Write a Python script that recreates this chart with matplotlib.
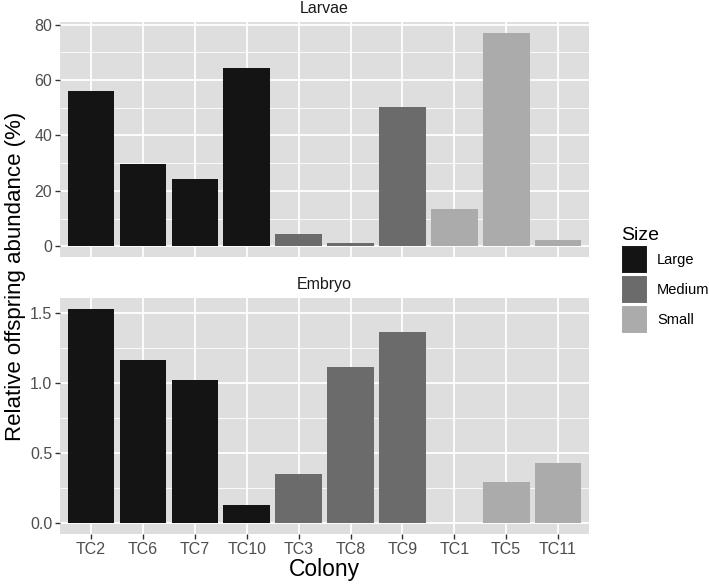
import matplotlib.pyplot as plt
from matplotlib.patches import Patch
from matplotlib.ticker import MultipleLocator

colonies = ["TC2", "TC6", "TC7", "TC10", "TC3", "TC8", "TC9", "TC1", "TC5", "TC11"]
sizes = ["Large", "Large", "Large", "Large", "Medium", "Medium", "Medium", "Small", "Small", "Small"]
larvae = [56.0, 29.8, 24.3, 64.3, 4.6, 1.1, 50.1, 13.4, 77.1, 2.2]
embryo = [1.533, 1.167, 1.026, 0.129, 0.354, 1.119, 1.367, 0.0, 0.293, 0.433]

size_colors = {"Large": "#141414", "Medium": "#6b6b6b", "Small": "#ababab"}

plt.rcParams['font.family'] = ['Liberation Sans', 'DejaVu Sans']

fig = plt.figure(figsize=(7.09, 5.86), dpi=100)
ax1 = fig.add_axes([0.0846, 0.5614, 0.7464, 0.4011])
ax2 = fig.add_axes([0.0846, 0.0887, 0.7464, 0.4028])

x = list(range(1, len(colonies) + 1))
cols = [size_colors[s] for s in sizes]


def style(ax, vals, major, minor, title):
    ax.set_facecolor("#dedede")
    ax.bar(x, vals, width=0.9, color=cols, zorder=3)
    top = max(vals)
    ax.set_xlim(0.4, len(colonies) + 0.6)
    ax.set_ylim(-0.05 * top, top * 1.05)
    ax.yaxis.set_major_locator(MultipleLocator(major))
    ax.yaxis.set_minor_locator(MultipleLocator(minor))
    ax.set_xticks(x)
    ax.grid(which="major", color="white", lw=1.3, zorder=1)
    ax.grid(which="minor", axis="y", color="white", lw=0.6, zorder=1)
    for s in ax.spines.values():
        s.set_visible(False)
    ax.tick_params(which="major", length=3.5, width=1.0, color="#333333",
                   labelsize=11.5, labelcolor="#4d4d4d", pad=2)
    ax.tick_params(which="minor", length=0)
    ax.text(0.5, 1.037, title, transform=ax.transAxes, ha="center", va="baseline",
            fontsize=11.5, color="#1a1a1a")


style(ax1, larvae, 20, 10, "Larvae")
ax1.set_xticklabels([])
ax1.tick_params(axis="x", length=0)
style(ax2, embryo, 0.5, 0.25, "Embryo")
ax2.set_xticklabels(colonies)
ax2.yaxis.set_major_formatter(plt.FormatStrFormatter("%.1f"))

ax2.set_xlabel("Colony", fontsize=16.5, labelpad=1)
fig.text(0.022, 0.529, "Relative offspring abundance (%)", rotation=90,
         ha="center", va="center", fontsize=16)

handles = [Patch(facecolor=size_colors[k], edgecolor="white", lw=1.5, label=k)
           for k in ["Large", "Medium", "Small"]]
fig.legend(handles=handles, title="Size", loc="upper left",
           bbox_to_anchor=(0.866, 0.625), frameon=False, fontsize=10.5,
           title_fontsize=14, handlelength=1.85, handleheight=2.7,
           handletextpad=0.6, labelspacing=0.05, alignment="left", borderpad=0)

fig.savefig("out.png", dpi=100)
